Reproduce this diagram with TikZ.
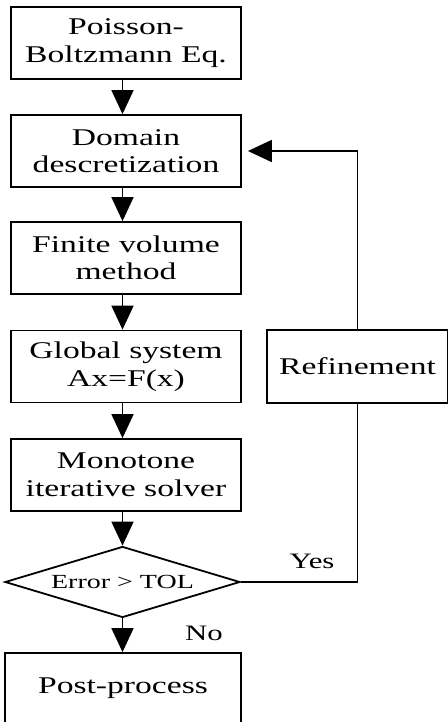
\documentclass[tikz,border=0pt]{standalone}
\usepackage{fontspec}
\setmainfont{Liberation Serif}[FakeStretch=1.4]
\usetikzlibrary{arrows.meta,shapes.geometric}
\tikzset{
  procbox/.style={draw, line width=1.8pt, minimum width=230pt, minimum height=72pt,
    inner sep=0pt, align=center, font=\fontsize{24}{27.5}\selectfont},
  decide/.style={draw, diamond, aspect=3.3, line width=1.8pt, minimum width=235pt,
    minimum height=71pt, inner sep=0pt, font=\fontsize{20}{23}\selectfont},
  flow/.style={line width=1.8pt, -{Triangle[length=24pt,width=22pt]}},
  flowline/.style={line width=1.8pt},
  answer/.style={font=\fontsize{22}{26}\selectfont, inner sep=0pt}
}
\begin{document}
\begin{tikzpicture}[x=1pt, y=-1pt]
        \useasboundingbox (0,0) rectangle (447,722);

        % 主流程
        \node[procbox] (pbe) at (126, 43) {Poisson-\\Boltzmann Eq.};
        \node[procbox] (dom) at (126, 151) {Domain\\descretization};
        \node[procbox] (fvm) at (126, 258) {Finite volume\\method};
        \node[procbox] (gsys) at (126, 366.5) {Global system\\Ax=F(x)};
        \node[procbox] (solver) at (126, 475) {Monotone\\iterative solver};
        \node[decide] (err) at (122.5, 582) {Error > TOL};
        \node[procbox, minimum width=236pt, minimum height=70pt] (post) at (123, 688) {Post-process};

        % 细化
        \node[procbox, minimum width=181pt, minimum height=73pt] (refine) at (357.5, 366.5) {Refinement};

        % 箭头
        \draw[flow] (pbe.south -| err.north) -- (dom.north -| err.north);
        \draw[flow] (dom.south -| err.north) -- (fvm.north -| err.north);
        \draw[flow] (fvm.south -| err.north) -- (gsys.north -| err.north);
        \draw[flow] (gsys.south -| err.north) -- (solver.north -| err.north);
        \draw[flow] (solver.south -| err.north) -- (err.north);
        \draw[flow] (err.south) -- (post.north -| err.south);

        % 回路
        \draw[flowline] (err.east) -| (refine.south);
        \draw[flow] (refine.north) |- ([xshift=6pt]dom.east);

        % 标注
        \node[answer] (yes) at (312, 561) {Yes};
        \node[answer] (no) at (204, 633) {No};
\end{tikzpicture}
\end{document}
